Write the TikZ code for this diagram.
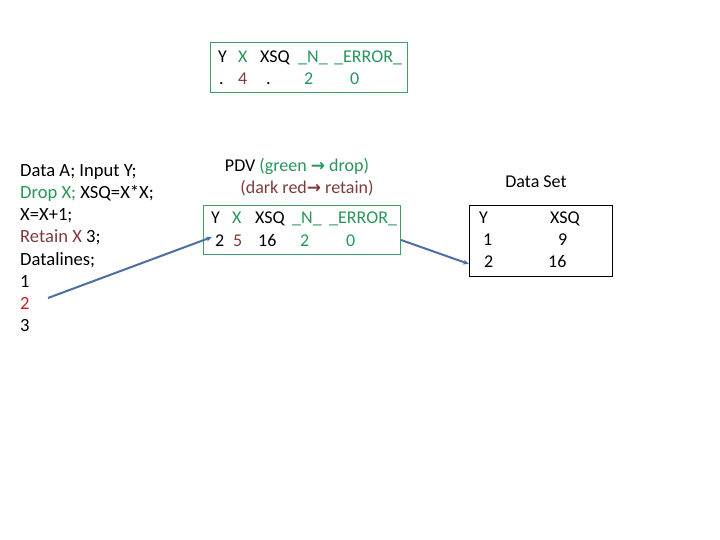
\documentclass[tikz,border=0pt]{standalone}
\usepackage{fontspec}
\setmainfont{Carlito}
\newfontfamily\dejavu{DejaVu Sans}
\newcommand\myarrow{{\dejavu\bfseries\fontsize{17}{18}\selectfont →}}
\usetikzlibrary{arrows.meta}
\definecolor{sasgreen}{RGB}{40,150,90}
\definecolor{boxgreen}{RGB}{60,160,100}
\definecolor{darkred}{RGB}{125,60,60}
\definecolor{brightred}{RGB}{190,30,50}
\definecolor{arrowblue}{RGB}{74,110,165}
\tikzset{
  txt/.style={anchor=base west, inner sep=0pt, font=\fontsize{18}{22}\selectfont},
  ltxt/.style={anchor=base west, inner sep=0pt, font=\fontsize{18.6}{22}\selectfont},
  ctxt/.style={anchor=base, inner sep=0pt, font=\fontsize{18}{22}\selectfont},
  gbox/.style={draw=boxgreen, line width=0.9pt},
  kbox/.style={draw=black, line width=0.9pt},
  conn/.style={draw=arrowblue, line width=2pt, -{Stealth[length=6pt,width=5pt]}}
}
\begin{document}
\begin{tikzpicture}[x=1pt,y=-1pt]
\useasboundingbox (0,0) rectangle (720,540);
% top box
\draw[gbox] (210,42) rectangle (407,92);
\node[txt] (t1) at (218,63) {Y};
\node[txt,text=sasgreen] (t2) at (238,63) {X};
\node[txt] (t3) at (260,63) {XSQ};
\node[txt,text=sasgreen] (t4) at (298,63) {\_N\_};
\node[txt,text=sasgreen] (t5) at (334,63) {\_ERROR\_};
\node[txt] (u1) at (219,85) {.};
\node[txt,text=darkred] (u2) at (238,85) {4};
\node[txt] (u3) at (266,85) {.};
\node[txt,text=sasgreen] (u4) at (304,85) {2};
\node[txt,text=sasgreen] (u5) at (350,85) {0};
% left program
\node[ltxt] (l1) at (20,177) {Data A; Input Y;};
\node[ltxt] (l2) at (20,199) {\textcolor{sasgreen}{Drop X;} XSQ=X*X;};
\node[ltxt] (l3) at (20,221) {X=X+1;};
\node[ltxt] (l4) at (20,243) {\textcolor{darkred}{Retain X} 3;};
\node[ltxt] (l5) at (20,265) {Datalines;};
\node[ltxt] (l6) at (20,287) {1};
\node[ltxt,text=brightred] (l7) at (20,309) {2};
\node[ltxt] (l8) at (20,331) {3};
% PDV header
\node[ctxt] (h1) at (297,172) {PDV \textcolor{sasgreen}{(green \myarrow{} drop)}};
\node[ctxt,text=darkred] (h2) at (307,194) {(dark red\myarrow{} retain)};
% PDV box
\draw[gbox] (203,205) rectangle (400,254);
\node[txt] (p1) at (211,224) {Y};
\node[txt,text=sasgreen] (p2) at (232,224) {X};
\node[txt] (p3) at (255,224) {XSQ};
\node[txt,text=sasgreen] (p4) at (292,224) {\_N\_};
\node[txt,text=sasgreen] (p5) at (329,224) {\_ERROR\_};
\node[txt] (q1) at (215,246) {2};
\node[txt,text=darkred] (q2) at (233,246) {5};
\node[txt] (q3) at (258,246) {16};
\node[txt,text=sasgreen] (q4) at (300,246) {2};
\node[txt,text=sasgreen] (q5) at (346,246) {0};
% Data set
\node[ctxt] (dsl) at (536,188) {Data Set};
\draw[kbox] (469,205) rectangle (612,276);
\node[txt] (d1) at (479,223) {Y};
\node[txt] (d2) at (550,223) {XSQ};
\node[txt] (d3) at (483,245) {1};
\node[txt] (d4) at (558,245) {9};
\node[txt] (d5) at (484,267) {2};
\node[txt] (d6) at (548,267) {16};
% connectors
\coordinate (a1s) at (48,298);
\coordinate (a1e) at (212,237);
\coordinate (a2s) at (401,240);
\coordinate (a2e) at (469,264);
\draw[conn] (a1s) -- (a1e);
\draw[conn] (a2s) -- (a2e);
\end{tikzpicture}
\end{document}
